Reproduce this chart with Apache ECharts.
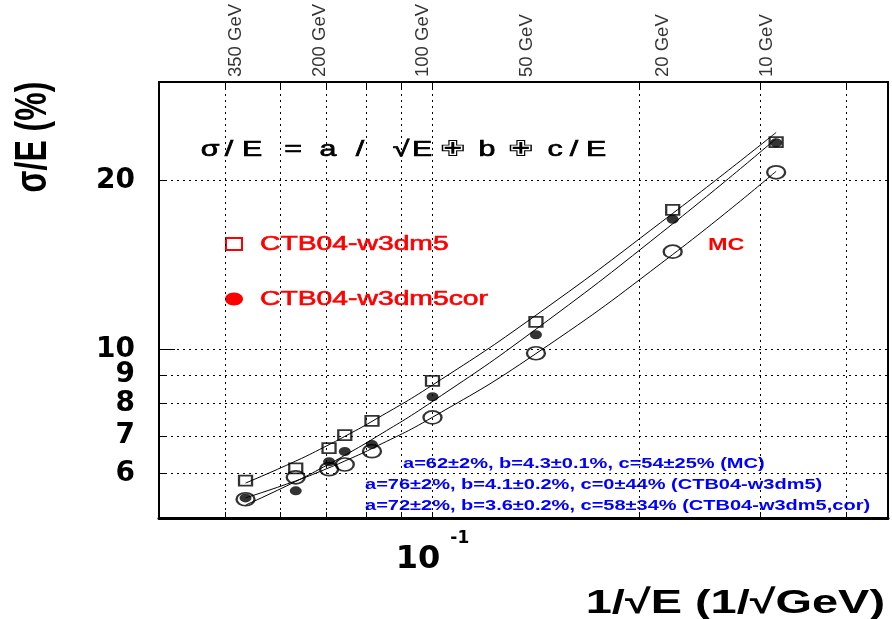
<!DOCTYPE html>
<html>
<head>
<meta charset="utf-8">
<script src="https://cdn.jsdelivr.net/npm/echarts@6/dist/echarts.min.js"></script>
<style>
  html, body { margin: 0; padding: 0; background: #fff; }
  #chart { width: 892px; height: 619px; }
</style>
</head>
<body>
<div id="chart"></div>
<script>
// Beam energies (GeV) of the measured points
const energies = [350, 250, 200, 180, 150, 100, 50, 20, 10];
// Energy resolution sigma/E (%) per configuration
const resW3dm5    = [5.83, 6.13, 6.66, 7.03, 7.45, 8.78, 11.19, 17.73, 23.44];
const resW3dm5cor = [5.43, 5.59, 6.30, 6.57, 6.76, 8.23, 10.62, 17.06, 23.37];
const resMC       = [5.40, 5.91, 6.11, 6.23, 6.58, 7.56, 9.84, 14.94, 20.70];
// Fit parameters [a, b, c] of sigma/E = a/sqrt(E) (+) b (+) c/E
const fitMC       = [62, 4.3, 54];
const fitW3dm5    = [76, 4.1, 0];
const fitW3dm5cor = [72, 3.6, 58];
const fitTexts = [
  'a=62±2%, b=4.3±0.1%, c=54±25% (MC)',
  'a=76±2%, b=4.1±0.2%, c=0±44% (CTB04-w3dm5)',
  'a=72±2%, b=3.6±0.2%, c=58±34% (CTB04-w3dm5,cor)'
];
// Energies marked along the top axis
const topEnergies = [350, 200, 100, 50, 20, 10];
// Axis ticks
const xTickValues = [0.05, 0.06, 0.07, 0.08, 0.09, 0.1, 0.2, 0.3, 0.4];
const xLabelValues = [0.1];
const yTickValues = [6, 7, 8, 9, 10, 20];
const yMajorTick = [10];

const invSqrt = E => 1 / Math.sqrt(E);
const resolution = (E, p) => Math.sqrt(Math.pow(p[0] / Math.sqrt(E), 2) + p[1] * p[1] + Math.pow(p[2] / E, 2));
const points = vals => energies.map((E, i) => [invSqrt(E), vals[i]]);
const fitCurve = p => energies.map(E => [invSqrt(E), resolution(E, p)]);

const ELLIPSE = 'path://M0,1a1,1 0 1,0 2,0a1,1 0 1,0 -2,0z';
const STRETCH = 1.38;
const SANS = '"Liberation Sans", Arial, "DejaVu Sans", sans-serif';

function label(x, y, text, style, extra) {
  return Object.assign({
    type: 'text', x: x, y: y, scaleX: STRETCH, silent: true,
    style: Object.assign({ text: text, x: 0, y: 0, fill: '#000', fontFamily: SANS,
      align: 'left', verticalAlign: 'middle' }, style)
  }, extra || {});
}

// formula glyphs with their horizontal centres
const formulaGlyphs = [['σ',210],['/',229],['E',252],['=',293],['a',328],['/',360],['√',401],['E',422],
  ['✙',453],['b',487],['✙',521],['c',555],['/',574],['E',596]];

const dotted = { color: '#000', width: 1, type: [2, 4] };

const chart = echarts.init(document.getElementById('chart'));
const graphics = [];
formulaGlyphs.forEach(g => graphics.push(label(g[1], 150, g[0],
  { fontSize: 22, align: 'center', stroke: '#000', lineWidth: g[0] === '✙' ? 0 : 0.7,
    fontFamily: '"Liberation Sans", "DejaVu Sans", sans-serif' })));
// legend
graphics.push({ type: 'rect', silent: true, shape: { x: 226, y: 238, width: 16, height: 12 },
  style: { fill: 'none', stroke: '#ff0000', lineWidth: 2 } });
graphics.push(label(260, 244, 'CTB04-w3dm5', { fontSize: 20.5, fill: '#ff0000', stroke: '#ff0000', lineWidth: 0.6 }));
graphics.push({ type: 'ellipse', silent: true, shape: { cx: 234, cy: 299, rx: 9, ry: 6.5 },
  style: { fill: '#ff0000' } });
graphics.push(label(260, 299, 'CTB04-w3dm5cor', { fontSize: 20.5, fill: '#ff0000', stroke: '#ff0000', lineWidth: 0.6 }));
graphics.push(label(708, 245, 'MC', { fontSize: 17, fontWeight: 'bold', fill: '#ff0000' }));
// fit results
graphics.push(label(403, 464, fitTexts[0], { fontSize: 14.5, fontWeight: 'bold', fill: '#0000ff' }));
graphics.push(label(365, 485, fitTexts[1], { fontSize: 14.5, fontWeight: 'bold', fill: '#0000ff' }));
graphics.push(label(365, 506, fitTexts[2], { fontSize: 14.5, fontWeight: 'bold', fill: '#0000ff' }));
// axis titles
graphics.push(label(885, 604, '1/√E (1/√GeV)', { fontSize: 34, fontWeight: 'bold', align: 'right' }));
graphics.push({
  type: 'text', x: 34, y: 137, rotation: Math.PI / 2, scaleY: STRETCH, silent: true,
  style: { text: 'σ/E (%)', x: 0, y: 0, fontSize: 32, fontWeight: 'bold', fontFamily: SANS,
    fill: '#000', align: 'center', verticalAlign: 'middle' }
});

const logX = { type: 'log', logBase: 10, min: 0.04, max: 0.46 };
const logY = { type: 'log', logBase: 10, min: 5, max: 30 };

chart.setOption({
  animation: false,
  backgroundColor: '#fff',
  grid: { left: 159, right: 4, top: 82, bottom: 101, show: true, borderColor: '#000', borderWidth: 2 },
  xAxis: [
    Object.assign({}, logX, {
      position: 'bottom',
      axisLine: { show: true, lineStyle: { color: '#000', width: 3 } },
      axisTick: { show: true, inside: true, length: 6, customValues: xTickValues, lineStyle: { color: '#000', width: 1 } },
      axisLabel: {
        customValues: xLabelValues, margin: 12,
        formatter: () => '{base|10}{sup|-1}',
        rich: {
          base: { fontSize: 32, fontWeight: 'bold', fontFamily: '"DejaVu Sans"', color: '#000', padding: [14, 0, 0, 0], verticalAlign: 'bottom' },
          sup: { fontSize: 17, fontWeight: 'bold', fontFamily: '"DejaVu Sans"', color: '#000', padding: [0, 0, 0, 10], verticalAlign: 'top' }
        }
      },
      splitLine: { show: true, lineStyle: dotted }
    }),
    Object.assign({}, logX, {
      position: 'top',
      axisLine: { show: false },
      axisTick: { show: true, inside: true, length: 6, customValues: xTickValues, lineStyle: { color: '#000', width: 1 } },
      axisLabel: { show: false },
      splitLine: { show: false }
    })
  ],
  yAxis: [
    Object.assign({}, logY, {
      position: 'left',
      axisLine: { show: false },
      axisTick: { show: true, inside: true, length: 6, customValues: yTickValues, lineStyle: { color: '#000' } },
      axisLabel: { customValues: yTickValues, margin: 24, fontSize: 28, fontWeight: 'bold',
        fontFamily: '"DejaVu Sans"', color: '#000' },
      splitLine: { show: true, lineStyle: dotted }
    }),
    Object.assign({}, logY, {
      position: 'left',
      axisLine: { show: false },
      axisTick: { show: true, inside: true, length: 16, customValues: yMajorTick, lineStyle: { color: '#000', width: 1 } },
      axisLabel: { show: false },
      splitLine: { show: false }
    })
  ],
  series: [
    { type: 'line', data: fitCurve(fitW3dm5), smooth: true, showSymbol: false, silent: true,
      lineStyle: { color: '#000', width: 1 }, z: 2 },
    { type: 'line', data: fitCurve(fitW3dm5cor), smooth: true, showSymbol: false, silent: true,
      lineStyle: { color: '#000', width: 1 }, z: 2 },
    { type: 'line', data: fitCurve(fitMC), smooth: true, showSymbol: false, silent: true,
      lineStyle: { color: '#000', width: 1 }, z: 2 },
    { name: 'CTB04-w3dm5', type: 'scatter', data: points(resW3dm5), symbol: 'rect', symbolSize: [13, 10],
      itemStyle: { color: 'rgba(0,0,0,0)', borderColor: '#000', borderWidth: 2 }, z: 4 },
    { name: 'MC', type: 'scatter', data: points(resMC), symbol: ELLIPSE, symbolSize: [18, 13],
      itemStyle: { color: 'rgba(0,0,0,0)', borderColor: '#000', borderWidth: 2 }, z: 4 },
    { name: 'CTB04-w3dm5cor', type: 'scatter', data: points(resW3dm5cor), symbol: ELLIPSE, symbolSize: [12, 9],
      itemStyle: { color: '#000' }, z: 5 },
    { type: 'scatter', silent: true, symbolSize: 0, clip: false,
      data: topEnergies.map(E => ({ value: [invSqrt(E), 30], energy: E })),
      label: { show: true, position: 'top', distance: 5, rotate: 90, align: 'left', verticalAlign: 'bottom',
        fontSize: 18.5, fontFamily: SANS, color: '#000',
        formatter: p => p.data.energy + ' GeV' } }
  ],
  graphic: graphics
});
</script>
</body>
</html>
